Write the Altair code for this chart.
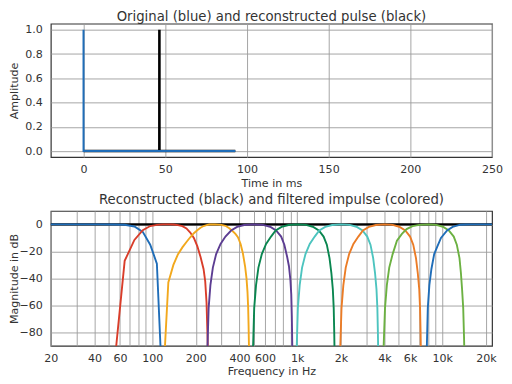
import altair as alt
import pandas as pd

# ---------------- top panel: time signals ----------------
orig_t = [0.0, 0.0227, 92.88]
orig_amp = [1.0, 0.0, 0.0]
recon_t = [0.0, 46.42, 46.44, 46.46, 92.88]
recon_amp = [0.0, 0.0, 1.0, 0.0, 0.0]
time_ticks = [0, 50, 100, 150, 200, 250]
amp_ticks = [0.0, 0.2, 0.4, 0.6, 0.8, 1.0]

# ---------------- bottom panel: magnitude responses ----------------
ref_f = [10.77, 22050]
ref_db = [0.0, 0.0]

lp_f = [10.77, 21.5, 32.3, 43.1, 53.8, 64.6, 75.4, 86.1, 96.9, 107.7, 118.4]
lp_db = [0, 0, 0, 0, -0.05, -0.2, -1.5, -5.5, -15, -29, -130]

b125_f = [53.8, 64.6, 75.4, 86.1, 96.9, 107.7, 118.4, 129.2, 140.0, 150.7, 161.5,
          172.3, 183.0, 193.8, 204.6, 215.3, 226.0, 232.0, 237.0, 241.0, 244.0]
b125_db = [-113, -27, -11.5, -4.3, -1.2, -0.3, 0, 0, -0.1, -0.5, -1.3,
           -3, -6, -10, -16, -24, -33, -42, -58, -85, -110]

b250_f = [118.4, 129.2, 140.0, 150.7, 161.5, 172.3, 183.0, 193.8, 204.6, 215.3,
          226.1, 236.9, 247.6, 270, 300, 320, 340, 355, 375, 390, 407, 422, 437,
          447, 454, 459, 462, 465, 468]
b250_db = [-120, -43, -30, -22, -17, -13, -9.5, -6.5, -4.3, -2.5,
           -1.2, -0.5, -0.1, 0, -0.3, -1, -2.8, -4.5, -7, -9.5, -14.5, -21.4, -31,
           -40, -50, -62, -75, -92, -110]

b500_f = [237, 241, 245, 252, 262, 276, 296, 320, 350, 385, 430, 500, 580, 650,
          715, 775, 815, 852, 877, 897, 910, 918, 924, 930]
b500_db = [-105, -88, -62, -45, -32, -22, -14.5, -9, -4.5, -1.8, -0.4, 0, -0.3, -1.7,
           -4.5, -9, -15, -24, -31, -41, -52, -68, -88, -110]

b1k_f = [490, 497, 505, 520, 540, 570, 610, 660, 710, 780, 870, 1000, 1150, 1280,
         1410, 1520, 1600, 1670, 1720, 1760, 1785, 1800, 1815]
b1k_db = [-105, -88, -62, -45, -32, -22, -14.5, -9, -4.5, -1.8, -0.4, 0, -0.3, -1.7,
          -4.5, -9, -15, -25, -36, -48, -62, -80, -105]

b2k_f = [980, 994, 1010, 1040, 1080, 1140, 1220, 1320, 1420, 1560, 1740, 2000, 2300,
         2560, 2820, 3040, 3200, 3340, 3440, 3520, 3570, 3600, 3630]
b2k_db = [-105, -88, -62, -45, -32, -22, -14.5, -9, -4.5, -1.8, -0.4, 0, -0.3,
          -1.7, -4.5, -9, -15, -25, -36, -48, -62, -80, -105]

b4k_f = [1960, 1985, 2020, 2080, 2160, 2280, 2440, 2640, 2840, 3120, 3480, 4000, 4550,
         5050, 5560, 6000, 6310, 6590, 6780, 6940, 7030, 7090, 7150]
b4k_db = [-105, -88, -62, -45, -32, -22, -14.5, -9, -4.5, -1.8, -0.4, 0, -0.3,
          -1.7, -4.5, -9, -15, -25, -36, -48, -62, -80, -105]

b8k_f = [3910, 3950, 4030, 4150, 4310, 4550, 4870, 5270, 5680, 6240, 6950, 8000, 9100,
         10100, 11100, 12000, 12600, 13150, 13450, 13700, 13950, 14120, 14280]
b8k_db = [-105, -88, -62, -45, -32, -22, -12, -7, -3.5, -1.3, -0.3, 0, -0.3,
          -1.7, -4.5, -9, -15, -25, -36, -48, -62, -82, -105]

hp_f = [7790, 7840, 7950, 8150, 8420, 8800, 9240, 9800, 10800, 11800, 13340, 14500,
        16000, 22050]
hp_db = [-105, -88, -62, -45, -33, -22, -16.5, -10, -4.4, -1.8, -0.2, -0.05, 0, 0]

band_names = ["lp", "b125", "b250", "b500", "b1k", "b2k", "b4k", "b8k", "hp"]
band_colors = ["#1f6db8", "#d93d2a", "#f2a81d", "#5c3d92", "#0a8650",
               "#4dc4bf", "#eb7c26", "#6cb142", "#1f6db8"]
band_freqs = [lp_f, b125_f, b250_f, b500_f, b1k_f, b2k_f, b4k_f, b8k_f, hp_f]
band_dbs = [lp_db, b125_db, b250_db, b500_db, b1k_db, b2k_db, b4k_db, b8k_db, hp_db]

freq_grid = [20, 30, 40, 50, 60, 70, 80, 90, 100, 200, 300, 400, 500, 600, 700, 800, 900,
             1000, 2000, 3000, 4000, 5000, 6000, 7000, 8000, 9000, 10000, 20000]
freq_labels = [20, 40, 60, 100, 200, 400, 600, 1000, 2000, 4000, 6000, 10000, 20000]
db_ticks = [0, -20, -40, -60, -80]

# ---------------- build tables ----------------
orig_df = pd.DataFrame({"t": orig_t, "amp": orig_amp})
recon_df = pd.DataFrame({"t": recon_t, "amp": recon_amp})
ref_df = pd.DataFrame({"f": ref_f, "db": ref_db})
bands_df = pd.concat(
    [pd.DataFrame({"f": f, "db": d, "band": n, "order": i})
     for i, (n, f, d) in enumerate(zip(band_names, band_freqs, band_dbs))],
    ignore_index=True,
)

TEXT = "#333333"
FONT = "DejaVu Sans"
W = 443

tx = alt.X("t:Q", scale=alt.Scale(domain=[-20, 250], nice=False),
           axis=alt.Axis(values=time_ticks, title="Time in ms", format="d"))
ty = alt.Y("amp:Q", scale=alt.Scale(domain=[-0.05, 1.05], nice=False, zero=False),
           axis=alt.Axis(values=amp_ticks, format=".1f", title="Amplitude"))

top = alt.layer(
    alt.Chart(recon_df).mark_line(color="black", strokeWidth=2.6).encode(x=tx, y=ty),
    alt.Chart(orig_df).mark_line(color="#1f6db8", strokeWidth=2).encode(x=tx, y=ty),
).properties(
    width=W, height=134,
    title=alt.TitleParams("Original (blue) and reconstructed pulse (black)", offset=0.5),
)

label_expr = (
    "indexof(" + str(freq_labels) + ", datum.value) >= 0 ? "
    "(datum.value >= 1000 ? format(datum.value / 1000, 'd') + 'k' : format(datum.value, 'd')) : ''"
)
fx = alt.X("f:Q", scale=alt.Scale(type="log", domain=[20, 22050], nice=False),
           axis=alt.Axis(values=freq_grid, labelExpr=label_expr, title="Frequency in Hz"))
fy = alt.Y("db:Q", scale=alt.Scale(domain=[-90, 10], nice=False, zero=False),
           axis=alt.Axis(values=db_ticks, format="d", title="Magnitude in dB"))

bottom = alt.layer(
    alt.Chart(ref_df).mark_line(color="black", strokeWidth=2.2, clip=True).encode(x=fx, y=fy),
    alt.Chart(bands_df).mark_line(strokeWidth=1.9, clip=True).encode(
        x=fx, y=fy,
        color=alt.Color("band:N", scale=alt.Scale(domain=band_names, range=band_colors),
                        legend=None),
        detail="band:N",
        order=alt.Order("f:Q"),
    ),
).properties(
    width=W, height=135.5,
    title=alt.TitleParams("Reconstructed (black) and filtered impulse (colored)", offset=5),
)

chart = alt.vconcat(top, bottom, spacing=3).properties(
    padding={"left": 0, "top": 0, "right": 0, "bottom": 0}
).configure_view(
    stroke="#333333", strokeWidth=1.2
).configure_axis(
    grid=True, gridColor="#9c9c9c", gridWidth=0.9, gridOpacity=1,
    domain=False, ticks=False, tickSize=0,
    labelFont=FONT, labelFontSize=11.1, labelColor=TEXT,
    titleFont=FONT, titleFontSize=11.1, titleFontWeight="normal", titleColor=TEXT,
    labelFlush=False, labelOverlap=False, labelBound=False,
).configure_axisX(
    labelPadding=6.5, titlePadding=2.5,
).configure_axisY(
    labelPadding=8.5, titlePadding=0, minExtent=31, maxExtent=31,
).configure_title(
    font=FONT, fontSize=13.3, fontWeight="normal", color=TEXT, anchor="middle",
)

chart.save("out.html", embed_options={"renderer": "svg", "actions": False})
